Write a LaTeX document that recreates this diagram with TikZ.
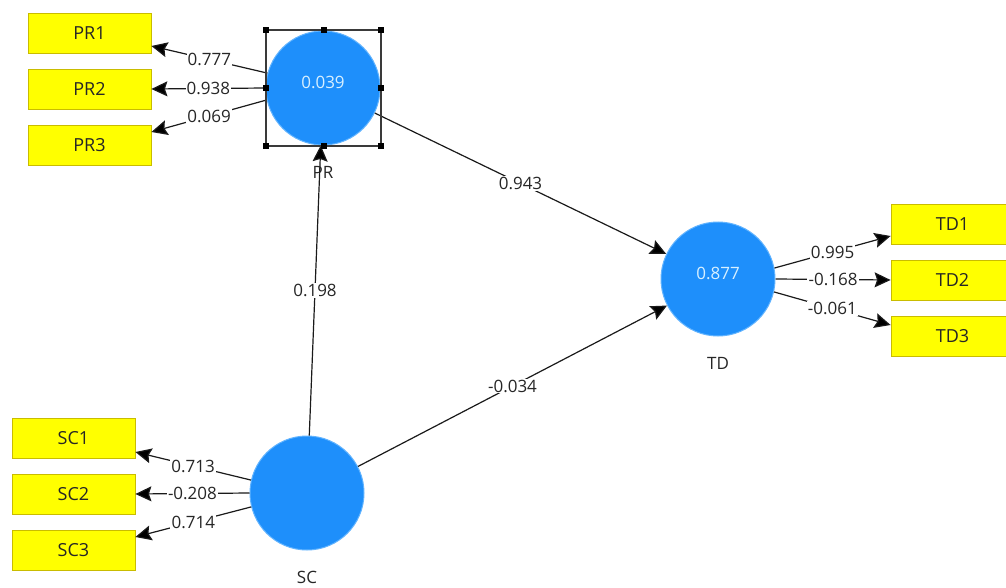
\documentclass[tikz,border=0pt]{standalone}
\usepackage{fontspec}
\setmainfont{Open Sans}
\usetikzlibrary{arrows.meta}
\definecolor{lvfill}{HTML}{1E8FFB}
\definecolor{lvedge}{HTML}{62B4FF}
\definecolor{lvtext}{HTML}{D8F0FF}
\definecolor{boxfill}{HTML}{FFFF00}
\definecolor{boxedge}{HTML}{C9BC00}
\definecolor{ink}{HTML}{262626}
\definecolor{wire}{HTML}{1A1A1A}
\definecolor{selframe}{HTML}{3A3A3A}
\begin{document}
\begin{tikzpicture}[x=1pt,y=-1pt,
  indicator/.style={draw=boxedge, line width=0.8pt, fill=boxfill, minimum width=123pt,
    minimum height=40pt, inner sep=0pt, text=ink, font=\fontsize{18}{20}\selectfont},
  construct/.style={circle, fill=lvfill, draw=lvedge, line width=1pt,
    minimum size=114pt, inner sep=0pt},
  valtext/.style={text=lvtext, font=\fontsize{17}{19}\selectfont, inner sep=0pt},
  cname/.style={text=ink, font=\fontsize{17}{19}\selectfont, inner sep=0pt},
  link/.style={line width=1.2pt, draw=wire,
    -{Stealth[length=16pt,width=15pt,inset=2.5pt,fill=black]}},
  coef/.style={fill=white, inner sep=1.2pt, text=ink, font=\fontsize{17}{19}\selectfont},
  handle/.style={fill=black, draw=none, minimum size=6pt, inner sep=0pt}
]
\useasboundingbox[fill=white] (0,0) rectangle (1006,588);

% indicator boxes
\node[indicator] (PR1) at (89.5,33) {PR1};
\node[indicator] (PR2) at (89.5,89) {PR2};
\node[indicator] (PR3) at (89.5,145) {PR3};
\node[indicator] (SC1) at (73.5,438) {SC1};
\node[indicator] (SC2) at (73.5,494) {SC2};
\node[indicator] (SC3) at (73.5,550) {SC3};
\node[indicator] (TD1) at (952.5,224) {TD1};
\node[indicator] (TD2) at (952.5,280) {TD2};
\node[indicator] (TD3) at (952.5,336) {TD3};

% latent constructs
\node[construct] (PR) at (323,88) {};
\node[construct] (TD) at (718,279) {};
\node[construct] (SC) at (307,493) {};

\node[valtext] (PRv) at ([yshift=6pt]PR.center) {0.039};
\node[valtext] (TDv) at ([yshift=6pt]TD.center) {0.877};

\node[cname] (PRn) at ([yshift=-84pt]PR.center) {PR};
\node[cname] (TDn) at ([yshift=-84pt]TD.center) {TD};
\node[cname] (SCn) at ([yshift=-84pt]SC.center) {SC};

% outer loadings
\draw[link] (PR.165) -- node[coef] {0.777} ([yshift=-13pt]PR1.east);
\draw[link] (PR.west) -- node[coef] {0.938} (PR2.east);
\draw[link] (PR.192) -- node[coef] {0.069} ([yshift=13pt]PR3.east);

\draw[link] (SC.167) -- node[coef] {0.713} ([yshift=-14pt]SC1.east);
\draw[link] (SC.west) -- node[coef] {-0.208} (SC2.east);
\draw[link] (SC.194) -- node[coef] {0.714} ([yshift=13pt]SC3.east);

\draw[link] (TD.11) -- node[coef] {0.995} ([yshift=-12pt]TD1.west);
\draw[link] (TD.east) -- node[coef] {-0.168} (TD2.west);
\draw[link] (TD.-13) -- node[coef] {-0.061} ([yshift=11pt]TD3.west);

% path coefficients
\draw[link] (SC) -- node[coef] {0.198} (PR);
\draw[link] (PR) -- node[coef] {0.943} (TD);
\draw[link] (SC) -- node[coef] {-0.034} (TD);

% selection frame round PR
\draw[selframe, line width=1.2pt] (266,30) rectangle (381,146);
\foreach \hx/\hy [count=\i] in {266/30, 323.5/30, 381/30, 266/88, 381/88, 266/146, 323.5/146, 381/146}
  \node[handle] (h\i) at (\hx,\hy) {};
\end{tikzpicture}
\end{document}
